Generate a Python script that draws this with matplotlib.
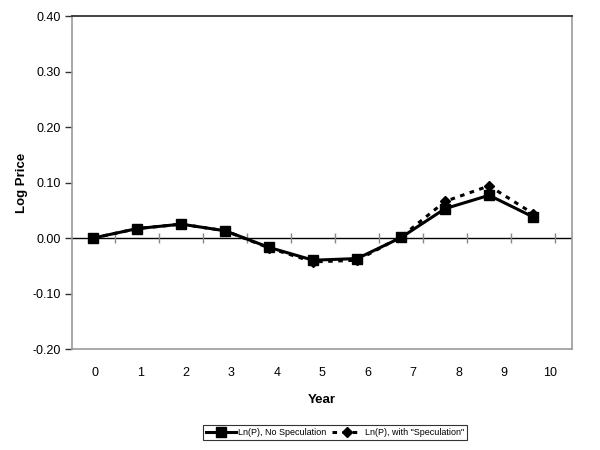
import numpy as np
import matplotlib
matplotlib.use("Agg")
from matplotlib import pyplot as plt

plt.rcParams['font.family'] = ['Liberation Sans', 'DejaVu Sans']

# data
years = np.arange(0, 11)
year_labels = [str(y) for y in years]
ln_no_spec = [0.000, 0.017, 0.025, 0.013, -0.017, -0.040, -0.037, 0.001, 0.053, 0.077, 0.038]
ln_spec = [0.000, 0.017, 0.025, 0.013, -0.018, -0.043, -0.040, 0.002, 0.066, 0.094, 0.044]
yticks = [-0.20, -0.10, 0.00, 0.10, 0.20, 0.30, 0.40]

fig = plt.figure(figsize=(6, 4.5), dpi=100)
ax = fig.add_axes([0.12, 0.2244, 0.833, 0.74])

ax.plot(years, ln_spec, color='black', lw=2.2, dashes=(1.5, 1.8),
        marker='D', ms=5, label='Ln(P), with "Speculation"', zorder=3)
ax.plot(years, ln_no_spec, color='black', lw=2.2, marker='s', ms=6.5,
        label='Ln(P), No Speculation', zorder=4)

# zero line with category tick marks on it
ax.axhline(0, color='black', lw=1, zorder=2)
bounds = np.append(years[:-1] + 0.5, years[-1] + 0.5)
ax.vlines(bounds, -0.009, 0.009, color='#888888', lw=1, zorder=2)

ax.set_xlim(-0.484, 10.88)
ax.set_ylim(-0.20, 0.40)
ax.set_yticks(yticks)
ax.set_yticklabels(['%.2f' % v for v in yticks])
ax.tick_params(axis='y', direction='out', length=5, width=1, color='#333333',
               labelsize=9, pad=3)

# category labels (slightly wider spacing than the points, as in the original)
ax.set_xticks(0.039 + 1.034 * years)
ax.set_xticklabels(year_labels)
ax.tick_params(axis='x', length=0, labelsize=9, pad=13)

for s in ['left', 'right', 'bottom']:
    ax.spines[s].set_color('#999999')
    ax.spines[s].set_linewidth(1.2)
ax.spines['top'].set_color('#222222')
ax.spines['top'].set_linewidth(1.2)

ax.set_ylabel('Log Price', fontsize=9.5, fontweight='bold', labelpad=3)
ax.set_xlabel('Year', fontsize=9.5, fontweight='bold', labelpad=11)

h, l = ax.get_legend_handles_labels()
leg = fig.legend(h[::-1], l[::-1], loc='center', bbox_to_anchor=(0.558, 0.0389),
                 ncol=2, fontsize=6.5, frameon=True, fancybox=False,
                 handlelength=3.3, handletextpad=0.3, columnspacing=0.6,
                 borderpad=0.35, edgecolor='black')
leg.get_frame().set_linewidth(0.8)

fig.savefig('out.png', dpi=100)
